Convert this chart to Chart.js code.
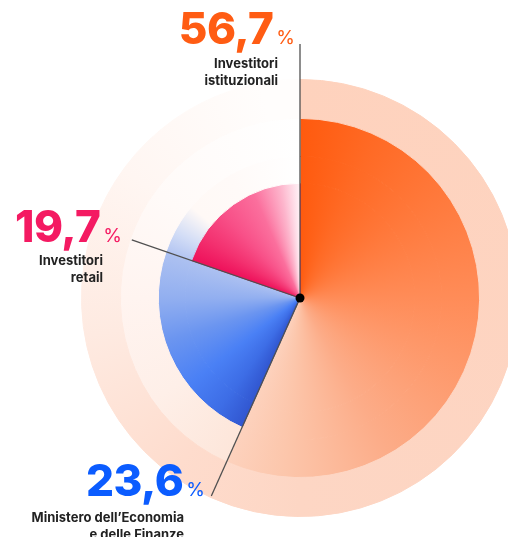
<!DOCTYPE html>
<html>
<head>
<meta charset="utf-8">
<script src="https://cdn.jsdelivr.net/npm/chart.js@4.4.1/dist/chart.umd.min.js"></script>
<style>
    html, body {
        margin: 0;
        padding: 0;
        width: 508px;
        height: 537px;
        overflow: hidden;
        background: #fff;
        font-family: Inter, "Noto Sans", sans-serif;
    }

    #wrap {
        position: absolute;
        left: 0;
        top: 0;
        width: 600px;
        height: 600px;
    }

    .num {
        position: absolute;
        font-weight: 800;
        font-size: 44px;
        line-height: 44px;
        letter-spacing: -0.5px;
        white-space: nowrap;
    }

    .num .pct {
        font-weight: 400;
        font-size: 19px;
        margin-left: 3px;
        letter-spacing: 0;
    }

    .sub {
        position: absolute;
        text-align: right;
        font-weight: 700;
        font-size: 13px;
        line-height: 16.5px;
        color: #222;
        white-space: nowrap;
    }
</style>
</head>
<body>

<div id="wrap">
    <canvas id="quoteChart" width="600" height="600"></canvas>
</div>

<div class="num" style="right:213px; top:6px; color:#ff5c13;">56,7<span class="pct">%</span></div>
<div class="sub" style="right:230px; top:55px;">Investitori<br>istituzionali</div>

<div class="num" style="right:386px; top:204px; color:#f41a62;">19,7<span class="pct">%</span></div>
<div class="sub" style="right:405px; top:252px;">Investitori<br>retail</div>

<div class="num" style="right:303px; top:458px; color:#0b5cff;">23,6<span class="pct">%</span></div>
<div class="sub" style="right:324px; top:509px;">Ministero dell’Economia<br>e delle Finanze</div>

<script>
/* ---------------------------------------------------
   Data
---------------------------------------------------*/

const holders = ["Investitori istituzionali", "Ministero dell’Economia e delle Finanze", "Investitori retail"];
const shares = [56.7, 23.6, 19.7];

// leader line length for each slice (drawn along the slice's start edge)
const leaderLengths = [254, 217, 178];


/* ---------------------------------------------------
   Conic gradients (angles in degrees, clockwise from top)
---------------------------------------------------*/

const gradientStops = {
    orange: [[0, "#ff5a0e"], [25, "#ff6a25"], [90, "#ff8c58"], [150, "#fcac88"], [185, "#fcc6ab"], [206, "#fdd3bf"]],
    blue: [[204, "#3156d0"], [216, "#3d6de6"], [232, "#4a80f5"], [252, "#6b95f0"], [270, "#92aff0"], [289, "#adc1f1"]],
    pink: [[289, "#ee105a"], [302, "#f3306f"], [318, "#f85088"], [336, "#fb6f9d"], [350, "#fdb5cc"], [360, "#fff3f7"]],
    halo: [[0, "#fed2bd"], [180, "#fdd6c4"], [216, "#fedccd"], [260, "#feeae1"], [306, "#fff6f2"], [350, "#fffdfc"], [360, "#fffdfc"]],
    faint: [[0, "#ffffff"], [204, "#fde6da"], [235, "#feefe8"], [270, "#fff4f0"], [306, "#fffaf8"], [360, "#ffffff"]],
    blueFade: [[0, "#ffffff"], [289, "#b3c5f2"], [298, "#d3ddf6"], [310, "#fff9f6"], [330, "#fffaf8"], [360, "#ffffff"]]
};

let gradientCache = {};

function conic(chart, name) {

    const area = chart.chartArea;
    if (!area) return "transparent";

    const key = name + area.left + "_" + area.top;
    if (gradientCache[key]) return gradientCache[key];

    const cx = (area.left + area.right) / 2;
    const cy = (area.top + area.bottom) / 2;
    const g = chart.ctx.createConicGradient(-Math.PI / 2, cx, cy);

    gradientStops[name].forEach(s => g.addColorStop(s[0] / 360, s[1]));

    gradientCache[key] = g;
    return g;

}

// which gradient each ring uses for each slice (outer ring first)
const ringFills = [
    ["halo", "halo", "halo"],
    ["orange", "faint", "faint"],
    ["orange", "blue", "blueFade"],
    ["orange", "blue", "pink"]
];

const ringWeights = [39, 38, 27, 115];

function ringDataset(fills, weight) {

    const fill = ctx => conic(ctx.chart, fills[ctx.dataIndex]);

    return {
        data: shares,
        weight: weight,
        backgroundColor: fill,
        borderColor: fill,
        borderWidth: 1
    };

}


/* ---------------------------------------------------
   Leader lines and centre dot
---------------------------------------------------*/

const leaderPlugin = {
    id: "leaders",
    afterDatasetsDraw(chart) {

        const arcs = chart.getDatasetMeta(chart.data.datasets.length - 1).data;
        const x = arcs[0].x;
        const y = arcs[0].y;
        const ctx = chart.ctx;

        ctx.save();
        ctx.strokeStyle = "#505050";
        ctx.lineWidth = 1.3;

        arcs.forEach((arc, i) => {
            const a = arc.startAngle;
            ctx.beginPath();
            ctx.moveTo(x, y);
            ctx.lineTo(x + Math.cos(a) * leaderLengths[i], y + Math.sin(a) * leaderLengths[i]);
            ctx.stroke();
        });

        ctx.fillStyle = "#000";
        ctx.beginPath();
        ctx.arc(x, y, 4.5, 0, Math.PI * 2);
        ctx.fill();
        ctx.restore();

    }
};


/* ---------------------------------------------------
   Chart
---------------------------------------------------*/

new Chart(document.getElementById("quoteChart"), {
    type: "doughnut",
    data: {
        labels: holders,
        datasets: ringFills.map((f, i) => ringDataset(f, ringWeights[i]))
    },
    options: {
        responsive: false,
        animation: false,
        cutout: 0,
        rotation: 0,
        layout: {
            padding: { left: 81, top: 79, right: 81, bottom: 83 }
        },
        plugins: {
            legend: { display: false },
            tooltip: { enabled: false }
        }
    },
    plugins: [leaderPlugin]
});
</script>
</body>
</html>
